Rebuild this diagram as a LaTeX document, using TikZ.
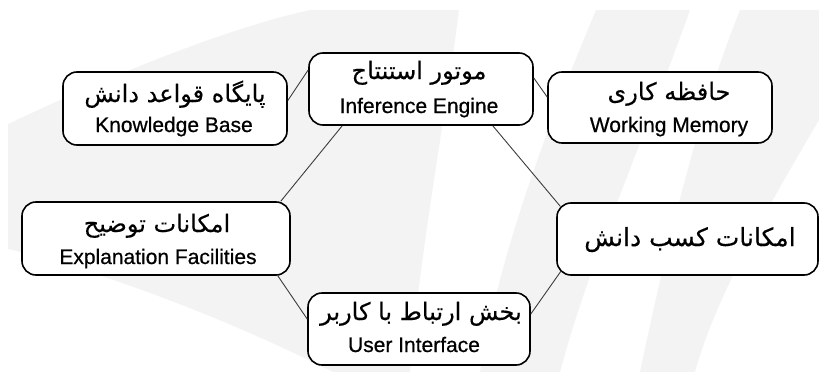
\documentclass[tikz,border=0pt]{standalone}
\usepackage{fontspec}
\setmainfont{Liberation Sans}
\newfontfamily\enfont{Liberation Sans}[FakeBold=0.6]
\newfontfamily\fafont[Script=Arabic,FakeBold=0.3]{DejaVu Sans}
\TeXXeTstate=1
\usetikzlibrary{calc}
\definecolor{bgband}{RGB}{243,243,243}
\definecolor{conn}{RGB}{60,60,60}
\tikzset{
  box/.style={draw=black, line width=1.6pt, rounded corners=14pt, fill=white, inner sep=0pt},
  entext/.style={font=\enfont\fontsize{21}{22}\selectfont, anchor=base, inner sep=0pt},
  fatext/.style={font=\fafont\fontsize{24}{26}\selectfont, anchor=base, inner sep=0pt},
  link/.style={draw=conn, line width=0.9pt},
  band/.style={fill=bgband, draw=none}
}
\begin{document}
\begin{tikzpicture}[x=1pt,y=-1pt]
\useasboundingbox (0,0) rectangle (819,372);
\fill[white] (0,0) rectangle (819,372);
\begin{scope}
\clip (8,10) rectangle (819,372);
\fill[band] (0,128) .. controls (100,80) and (220,30) .. (310,10) -- (459,10)
  .. controls (445,120) and (420,250) .. (410,372) -- (333,372)
  .. controls (230,320) and (100,270) .. (0,247) -- cycle;
\fill[band] (596,10) -- (690,10) .. controls (640,150) and (590,260) .. (560,372)
  -- (480,372) .. controls (500,250) and (550,120) .. (596,10) -- cycle;
\fill[band] (740,10) -- (819,10) -- (819,120) .. controls (760,220) and (715,300) .. (695,372)
  -- (640,372) .. controls (670,230) and (700,110) .. (740,10) -- cycle;
\end{scope}

\node[box, minimum width=224pt, minimum height=73pt] (kb) at (175,108.5) {};
\node[box, minimum width=224pt, minimum height=72pt] (ie) at (421,89) {};
\node[box, minimum width=224pt, minimum height=71pt] (wm) at (660,107.5) {};
\node[box, minimum width=268pt, minimum height=73pt] (ef) at (156,238.5) {};
\node[box, minimum width=261pt, minimum height=72pt] (ka) at (687.5,239) {};
\node[box, minimum width=222pt, minimum height=72pt] (ui) at (419,329) {};

\draw[link] ($(kb.east)+(0,-8)$) -- ($(ie.west)+(0,-19)$);
\draw[link] ($(ie.east)+(0,-11)$) -- ($(wm.west)+(0,-10.5)$);
\draw[link] ($(ie.south west)+(34,0)$) -- ($(ef.north east)+(-10,0)$);
\draw[link] ($(ie.south east)+(-41,0)$) -- ($(ka.north west)+(4,4)$);
\draw[link] ($(ef.south east)+(-13,0)$) -- ($(ui.west)+(0,-10)$);
\draw[link] ($(ka.south west)+(5,-5)$) -- ($(ui.east)+(0,-15)$);

\node[fatext] (kbfa) at (175,102) {\beginR پایگاه قواعد دانش\endR};
\node[entext] (kben) at (174,132) {Knowledge Base};
\node[fatext] (iefa) at (419,79) {\beginR موتور استنتاج\endR};
\node[entext] (ieen) at (419,113) {Inference Engine};
\node[fatext] (wmfa) at (669,100) {\beginR حافظه کاری\endR};
\node[entext] (wmen) at (669,132) {Working Memory};
\node[fatext] (effa) at (157,232) {\beginR امکانات توضیح\endR};
\node[entext] (efen) at (158,264) {Explanation Facilities};
\node[fatext, font=\fafont\fontsize{25}{27}\selectfont] (kafa) at (690,246) {\beginR امکانات کسب دانش\endR};
\node[fatext] (uifa) at (421,320) {\beginR بخش ارتباط با کاربر\endR};
\node[entext] (uien) at (414,352) {User Interface};
\end{tikzpicture}
\end{document}
